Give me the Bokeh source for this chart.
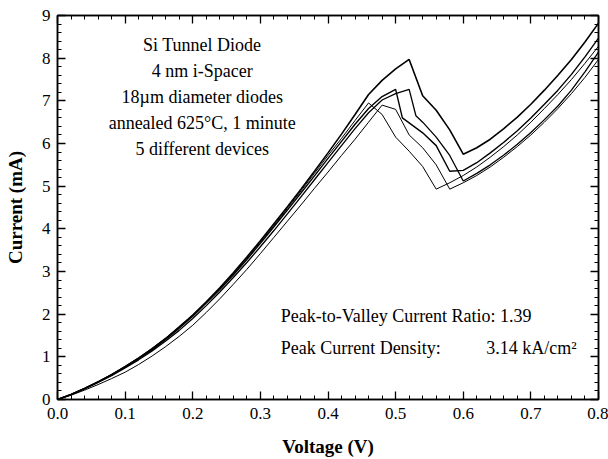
from bokeh.plotting import figure
from bokeh.models import (Range1d, LinearAxis, SingleIntervalTicker, PrintfTickFormatter,
                          CustomJSTickFormatter)
from bokeh.core.properties import value
from bokeh.embed import file_html
from bokeh.resources import INLINE

# ---- data ----
va = [0.00, 0.02, 0.04, 0.06, 0.08, 0.10, 0.12, 0.14, 0.16, 0.18, 0.20, 0.22, 0.24, 0.26, 0.28, 0.30,
      0.32, 0.34, 0.36, 0.38, 0.40, 0.42, 0.44, 0.46, 0.48, 0.50, 0.52, 0.54, 0.56, 0.58, 0.60,
      0.62, 0.64, 0.66, 0.68, 0.70, 0.72, 0.74, 0.76, 0.78, 0.80]
ia = [0.00, 0.12, 0.26, 0.41, 0.58, 0.77, 0.97, 1.19, 1.43, 1.70, 1.98, 2.29, 2.62, 2.97, 3.34, 3.72,
      4.12, 4.52, 4.93, 5.35, 5.78, 6.22, 6.68, 7.15, 7.48, 7.75, 7.97, 7.12, 6.78, 6.32, 5.75,
      5.90, 6.10, 6.35, 6.62, 6.92, 7.25, 7.60, 7.97, 8.38, 8.82]

vb = [0.00, 0.02, 0.04, 0.06, 0.08, 0.10, 0.12, 0.14, 0.16, 0.18, 0.20, 0.22, 0.24, 0.26, 0.28, 0.30,
      0.32, 0.34, 0.36, 0.38, 0.40, 0.42, 0.44, 0.46, 0.48, 0.50, 0.51, 0.54, 0.56, 0.58, 0.60,
      0.62, 0.64, 0.66, 0.68, 0.70, 0.72, 0.74, 0.76, 0.78, 0.80]
ib = [0.00, 0.12, 0.26, 0.41, 0.58, 0.76, 0.96, 1.17, 1.41, 1.67, 1.95, 2.26, 2.58, 2.92, 3.28, 3.66,
      4.05, 4.44, 4.84, 5.24, 5.65, 6.05, 6.45, 6.82, 7.10, 7.27, 6.60, 6.25, 5.95, 5.35, 5.37,
      5.55, 5.78, 6.03, 6.30, 6.60, 6.92, 7.25, 7.62, 8.03, 8.47]

vc = [0.00, 0.02, 0.04, 0.06, 0.08, 0.10, 0.12, 0.14, 0.16, 0.18, 0.20, 0.22, 0.24, 0.26, 0.28, 0.30,
      0.32, 0.34, 0.36, 0.38, 0.40, 0.42, 0.44, 0.46, 0.48, 0.50, 0.52, 0.53, 0.54, 0.56, 0.58, 0.60,
      0.62, 0.64, 0.66, 0.68, 0.70, 0.72, 0.74, 0.76, 0.78, 0.80]
ic = [0.00, 0.11, 0.25, 0.40, 0.56, 0.74, 0.93, 1.14, 1.37, 1.62, 1.90, 2.20, 2.52, 2.86, 3.21, 3.58,
      3.96, 4.35, 4.75, 5.15, 5.55, 5.95, 6.35, 6.72, 7.02, 7.17, 7.27, 6.65, 6.50, 6.15, 5.72, 5.12,
      5.30, 5.50, 5.73, 5.98, 6.26, 6.56, 6.88, 7.25, 7.68, 8.14]

vd = [0.00, 0.02, 0.04, 0.06, 0.08, 0.10, 0.12, 0.14, 0.16, 0.18, 0.20, 0.22, 0.24, 0.26, 0.28, 0.30,
      0.32, 0.34, 0.36, 0.38, 0.40, 0.42, 0.44, 0.46, 0.48, 0.50, 0.52, 0.54, 0.56, 0.58, 0.60,
      0.62, 0.64, 0.66, 0.68, 0.70, 0.72, 0.74, 0.76, 0.78, 0.80]
id_ = [0.00, 0.12, 0.26, 0.42, 0.59, 0.78, 0.98, 1.20, 1.44, 1.70, 1.98, 2.29, 2.61, 2.95, 3.31, 3.69,
       4.08, 4.48, 4.89, 5.30, 5.72, 6.12, 6.54, 6.95, 6.68, 6.15, 5.82, 5.46, 4.93, 5.08, 5.25,
       5.45, 5.68, 5.93, 6.20, 6.50, 6.82, 7.15, 7.50, 7.88, 8.28]

ve = [0.00, 0.02, 0.04, 0.06, 0.08, 0.10, 0.12, 0.14, 0.16, 0.18, 0.20, 0.22, 0.24, 0.26, 0.28, 0.30,
      0.32, 0.34, 0.36, 0.38, 0.40, 0.42, 0.44, 0.46, 0.48, 0.50, 0.52, 0.54, 0.56, 0.58, 0.60,
      0.62, 0.64, 0.66, 0.68, 0.70, 0.72, 0.74, 0.76, 0.78, 0.80]
ie = [0.00, 0.10, 0.22, 0.35, 0.49, 0.64, 0.82, 1.02, 1.24, 1.48, 1.74, 2.04, 2.36, 2.70, 3.05, 3.42,
      3.80, 4.18, 4.56, 4.95, 5.33, 5.72, 6.10, 6.50, 6.90, 6.80, 6.20, 5.90, 5.50, 4.93, 5.08,
      5.25, 5.45, 5.68, 5.93, 6.20, 6.50, 6.82, 7.17, 7.55, 7.97]

curves_v = [va, vb, vc, vd, ve]
curves_i = [ia, ib, ic, id_, ie]
curve_widths = [1.6, 1.4, 1.3, 1.0, 1.0]

info_lines = ["Si Tunnel Diode", "4 nm i-Spacer", "18\u00b5m diameter diodes",
              "annealed 625\u00b0C, 1 minute", "5 different devices"]
info_x = [0.214] * 5
info_y = [8.30, 7.71, 7.08, 6.47, 5.88]

stat_labels = ["Peak-to-Valley Current Ratio: 1.39", "Peak Current Density:"]
stat_x = [0.330, 0.330]
stat_y = [1.95, 1.21]
density_text = ["3.14 kA/cm\u00b2"]
density_x = [0.634]
density_y = [1.21]

FONT = "Liberation Serif"

p = figure(width=608, height=459, output_backend="svg", toolbar_location=None,
           x_range=Range1d(0, 0.8), y_range=Range1d(0, 9),
           min_border_left=57, min_border_right=10, min_border_top=15, min_border_bottom=60)
p.xgrid.visible = False
p.ygrid.visible = False
p.outline_line_color = "black"
p.outline_line_width = 1.5
p.background_fill_color = "white"
p.border_fill_color = "white"

def style(ax):
    ax.major_tick_in = 8
    ax.major_tick_out = 0
    ax.minor_tick_in = 4
    ax.minor_tick_out = 0
    ax.axis_line_color = "black"
    ax.axis_line_width = 1.5
    ax.major_tick_line_color = "black"
    ax.minor_tick_line_color = "black"
    ax.major_tick_line_width = 1.3
    ax.minor_tick_line_width = 1.0
    ax.major_label_text_font = FONT
    ax.major_label_text_font_size = "17px"
    ax.major_label_text_color = "black"
    ax.axis_label_text_font = FONT
    ax.axis_label_text_font_style = "bold"
    ax.axis_label_text_font_size = "19px"
    ax.axis_label_text_color = "black"

p.xaxis.ticker = SingleIntervalTicker(interval=0.1, num_minor_ticks=5)
p.yaxis.ticker = SingleIntervalTicker(interval=1, num_minor_ticks=5)
p.xaxis.formatter = PrintfTickFormatter(format="%.1f")
p.xaxis.axis_label = "Voltage (V)"
p.yaxis.axis_label = "Current (mA)"
style(p.xaxis[0])
style(p.yaxis[0])
p.xaxis.major_label_standoff = 8
p.yaxis.major_label_standoff = 7
p.xaxis.axis_label_standoff = 14
p.yaxis.axis_label_standoff = 13

blank = CustomJSTickFormatter(code='return ""')
top = LinearAxis(ticker=SingleIntervalTicker(interval=0.1, num_minor_ticks=5), formatter=blank)
right = LinearAxis(ticker=SingleIntervalTicker(interval=1, num_minor_ticks=5), formatter=blank)
for ax in (top, right):
    style(ax)
    ax.major_label_standoff = 0
p.add_layout(top, "above")
p.add_layout(right, "right")

for v, i, w in zip(curves_v, curves_i, curve_widths):
    p.line(v, i, line_color="black", line_width=w)

p.text(x=info_x, y=info_y, text=info_lines, text_font=value(FONT), text_font_size="18px",
       text_align="center", text_baseline="middle", text_color="black")
p.text(x=stat_x, y=stat_y, text=stat_labels, text_font=value(FONT), text_font_size="18px",
       text_align="left", text_baseline="middle", text_color="black")
p.text(x=density_x, y=density_y, text=density_text, text_font=value(FONT), text_font_size="18px",
       text_align="left", text_baseline="middle", text_color="black")

open("out.html", "w").write(file_html(p, INLINE))
